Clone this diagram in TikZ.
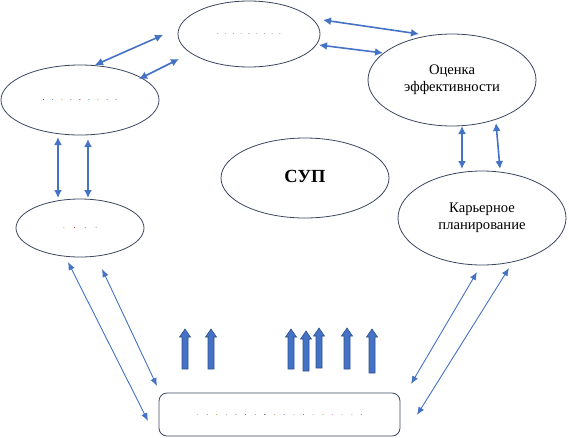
\documentclass[tikz,border=0pt]{standalone}
\usepackage{fontspec}
\setmainfont{Liberation Serif}
\usetikzlibrary{shapes.geometric,arrows.meta}
\definecolor{conn}{HTML}{4472C4}
\definecolor{outl}{HTML}{3A4660}
\definecolor{bafill}{HTML}{4472C4}
\definecolor{badraw}{HTML}{2F528F}
\definecolor{dA}{HTML}{C0A080}
\definecolor{dB}{HTML}{4472C4}
\definecolor{dC}{HTML}{ED7D31}
\definecolor{dD}{HTML}{C00000}
\definecolor{dE}{HTML}{7030A0}
\definecolor{dF}{HTML}{70AD47}
\definecolor{dG}{HTML}{8FAADC}
\definecolor{dH}{HTML}{FF66CC}
\definecolor{dI}{HTML}{808080}
\newcommand\mydot[2]{\textcolor{#1}{.}\hspace{#2}}
\begin{document}
\begin{tikzpicture}[x=1pt,y=-1pt,
  ell/.style={ellipse, draw=outl, line width=0.8pt, inner sep=0pt, align=center, font=\rmfamily\fontsize{14.6}{17}\selectfont},
  thickarr/.style={draw=conn, line width=1.6pt, {Latex[length=8pt,width=8pt]}-{Latex[length=8pt,width=8pt]}},
  thinarr/.style={draw=conn, line width=0.9pt, {Latex[length=8pt,width=6.5pt]}-{Latex[length=8pt,width=6.5pt]}},
  blockarr/.style={fill=bafill, draw=badraw, line width=0.6pt}]
\useasboundingbox (0,0) rectangle (569,437);

% ellipses
\node[ell, minimum width=142pt, minimum height=66pt] (top) at (249,34)
  {\fontsize{9}{9}\selectfont\mydot{dI}{5.5pt}\mydot{dA}{5.5pt}\mydot{dI}{5.5pt}\mydot{dA}{5.5pt}\mydot{dI}{5.5pt}\mydot{dA}{5.5pt}\mydot{dI}{5.5pt}\mydot{dA}{5.5pt}\textcolor{dI}{.}};
\node[ell, minimum width=158pt, minimum height=70pt] (lu) at (80,100)
  {\fontsize{9}{9}\selectfont\mydot{black}{6.8pt}\mydot{dB}{6.8pt}\mydot{dC}{6.8pt}\mydot{dB}{6.8pt}\mydot{dD}{6.8pt}\mydot{dB}{6.8pt}\mydot{dC}{6.8pt}\mydot{dB}{6.8pt}\textcolor{dB}{.}};
\node[ell, minimum width=128pt, minimum height=58pt] (ll) at (80,228)
  {\fontsize{9}{9}\selectfont\mydot{dA}{8.5pt}\mydot{dD}{8.5pt}\mydot{dI}{8.5pt}\textcolor{dI}{.}};
\node[ell, minimum width=168pt, minimum height=92pt] (ocen) at (452,80)
  {Оценка\\эффективности};
\node[ell, minimum width=168pt, minimum height=94pt] (kar) at (482,218)
  {Карьерное\\планирование};
\node[ell, minimum width=168pt, minimum height=80pt, font=\rmfamily\fontsize{18.5}{18.5}\selectfont\bfseries] (sup) at (305,178)
  {\raisebox{4pt}{СУП}};

% bottom rounded rectangle
\node[draw=outl, line width=0.8pt, rounded corners=8pt, minimum width=241pt, minimum height=43pt, inner sep=0pt] (bot) at (279.5,414.5)
  {\fontsize{9}{9}\selectfont\raisebox{-2pt}{\mydot{dA}{7.4pt}\mydot{dB}{7.4pt}\mydot{dF}{7.4pt}\mydot{dG}{7.4pt}\mydot{dB}{7.4pt}\mydot{dE}{7.4pt}\mydot{dF}{7.4pt}\mydot{black}{7.4pt}\mydot{dC}{7.4pt}\mydot{dE}{7.4pt}\mydot{dG}{7.4pt}\mydot{dE}{7.4pt}\mydot{dH}{7.4pt}\mydot{dF}{7.4pt}\mydot{dH}{7.4pt}\mydot{dG}{7.4pt}\mydot{dA}{7.4pt}\textcolor{dB}{.}}};

% thick connectors
\draw[thickarr] ([shift={(15,-35)}]lu.center) -- ([shift={(-86,1)}]top.center);
\draw[thickarr] ([shift={(59,-21)}]lu.center) -- ([shift={(-70,25)}]top.center);
\draw[thickarr] ([shift={(74,-14)}]top.center) -- ([shift={(-33,-46)}]ocen.center);
\draw[thickarr] ([shift={(70,11)}]top.center) -- ([shift={(-69,-27)}]ocen.center);
\draw[thickarr] ([shift={(-22,37)}]lu.center) -- ([shift={(-22,-30)}]ll.center);
\draw[thickarr] ([shift={(8,39)}]lu.center) -- ([shift={(8,-30)}]ll.center);
\draw[thickarr] ([shift={(10,46)}]ocen.center) -- ([shift={(-20,-49)}]kar.center);
\draw[thickarr] ([shift={(44,43)}]ocen.center) -- ([shift={(18,-49)}]kar.center);

% thin connectors
\draw[thinarr] ([shift={(-12,34)}]ll.center) -- ([shift={(-131.5,6.5)}]bot.center);
\draw[thinarr] ([shift={(22,41)}]ll.center) -- ([shift={(-122.5,-28.5)}]bot.center);
\draw[thinarr] ([shift={(-5,54)}]kar.center) -- ([shift={(131.5,-30.5)}]bot.center);
\draw[thinarr] ([shift={(27,50)}]kar.center) -- ([shift={(137.5,0.5)}]bot.center);

% block up arrows
\foreach \x/\t/\b in {185/329/369, 211/329/369, 291/329/369, 306/331/371, 319/328/368, 347/328/369, 372/329/373}
  \draw[blockarr] (\x-3,\b) -- (\x-3,\t+8) -- (\x-5.5,\t+8) -- (\x,\t) -- (\x+5.5,\t+8) -- (\x+3,\t+8) -- (\x+3,\b) -- cycle;
\end{tikzpicture}
\end{document}
